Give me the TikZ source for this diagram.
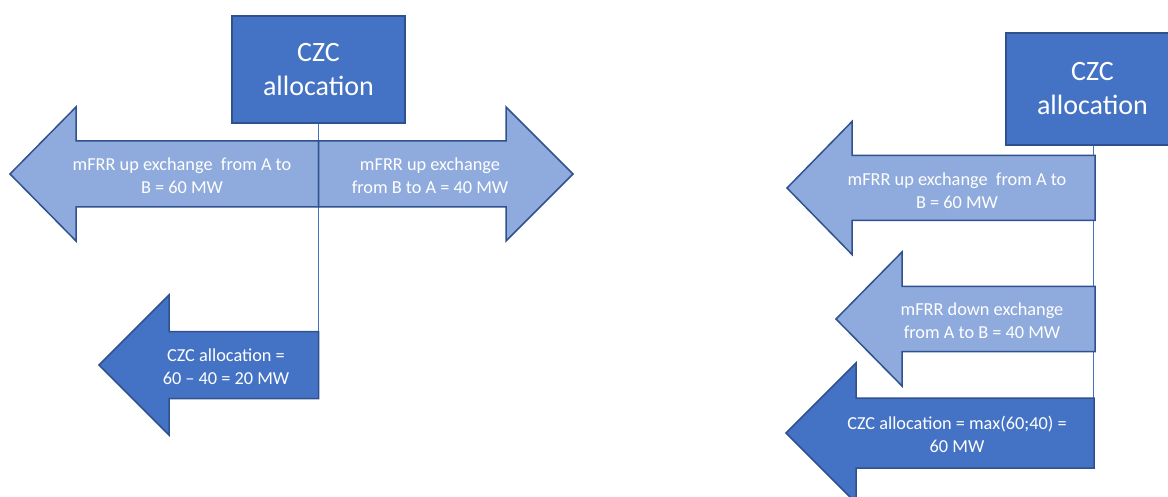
\documentclass[tikz,border=0pt]{standalone}
\usepackage{fontspec}
\setmainfont{Carlito}
\definecolor{dk}{HTML}{4472C4}
\definecolor{lt}{HTML}{8FAADC}
\definecolor{bd}{HTML}{2F528F}
\tikzset{
 darkarr/.style={fill=dk, draw=bd, line width=1.5pt, line join=miter},
 lightarr/.style={fill=lt, draw=bd, line width=1.5pt, line join=miter},
 lbl/.style={text=white, align=center, font=\fontsize{18.3}{22.8}\selectfont, inner sep=0pt},
 czcbox/.style={fill=dk, draw=bd, line width=1.5pt, minimum width=173pt, minimum height=107pt, text=white, align=center, font=\fontsize{28}{34}\selectfont},
 conn/.style={draw=dk, line width=1pt}
}
% #1 style, #2 tip x, #3 head base x, #4 tail x, #5 centre y, #6 shaft half height, #7 head half height
\newcommand\arrshape[7]{\path[#1] (#2,#5) -- (#3,#5-#7) -- (#3,#5-#6) -- (#4,#5-#6) -- (#4,#5+#6) -- (#3,#5+#6) -- (#3,#5+#7) -- cycle;}
\begin{document}
\begin{tikzpicture}[x=1pt,y=-1pt]
\clip (0,0) rectangle (1168,497);
% boxes
\node[czcbox] (boxL) at (318.5,69.5) {CZC\\allocation};
\node[czcbox, minimum height=112pt] (boxR) at (1092.5,89) {CZC\\allocation};
% connectors
\coordinate (endL) at (318.5,331);
\coordinate (endR) at (1093,468);
\draw[conn] (boxL.south) -- (endL);
\draw[conn] (boxR.south -| endR) -- (endR);
% left diagram arrows
\arrshape{lightarr}{10}{76}{318.5}{174}{33}{67}
\arrshape{lightarr}{573}{506}{318.5}{174}{33}{67}
\arrshape{darkarr}{99}{169}{318.5}{365}{33.5}{70}
% right diagram arrows
\arrshape{lightarr}{787}{852}{1095}{188}{32.5}{66.5}
\arrshape{lightarr}{836}{902}{1095}{319}{32.5}{67}
\arrshape{darkarr}{786}{856}{1094}{433}{35}{70}
% labels
\node[lbl] (tAB) at (182,175.5) {mFRR up exchange\ \ from A to\\B = 60 MW};
\node[lbl] (tBA) at (430,175.5) {mFRR up exchange\\from B to A = 40 MW};
\node[lbl] (tCZCL) at (226,366.5) {CZC allocation =\\60 – 40 = 20 MW};
\node[lbl] (tR1) at (957,190.5) {mFRR up exchange\ \ from A to\\B = 60 MW};
\node[lbl] (tR2) at (982,320.5) {mFRR down exchange\\from A to B = 40 MW};
\node[lbl] (tR3) at (957,434.5) {CZC allocation = max(60;40) =\\60 MW};
\end{tikzpicture}
\end{document}
